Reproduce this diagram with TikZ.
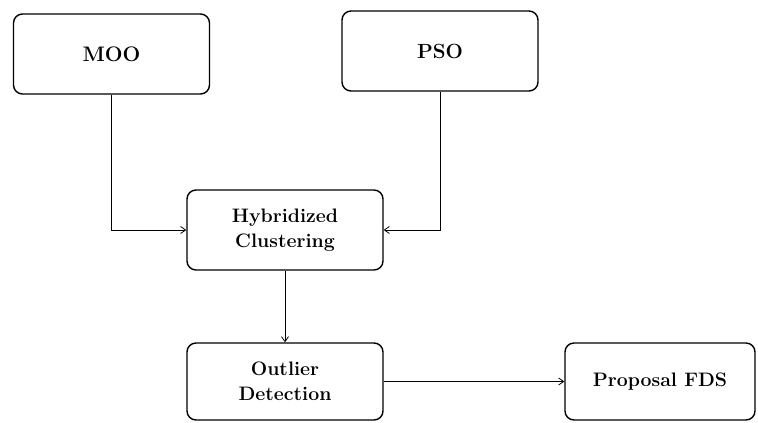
\documentclass[tikz,border=0pt]{standalone}
\usepackage{fontspec}
\usetikzlibrary{arrows.meta}

\tikzset{
  blockbox/.style={draw, line width=1.4pt, rounded corners=9pt, align=center,
    minimum width=196pt, minimum height=80pt, inner sep=0pt,
    font=\fontsize{19.5}{25}\selectfont\bfseries},
  flowline/.style={line width=0.8pt, -{Straight Barb[length=5pt,width=7pt]}}
}

\begin{document}
\begin{tikzpicture}[x=1pt, y=-1pt]
      \useasboundingbox (0,0) rectangle (758,423);

      \node[blockbox, font=\fontsize{21}{25}\selectfont\bfseries] (moo) at (111.5,54) {MOO};
      \node[blockbox, font=\fontsize{20.5}{25}\selectfont\bfseries] (pso) at (440,51) {PSO};

      \node[blockbox] (hyb) at (285,230) {Hybridized\\Clustering};
      \node[blockbox, minimum height=77pt] (outl) at (285,381.5) {Outlier\\Detection};
      \node[blockbox, minimum width=190pt, minimum height=77pt] (fds) at (660,381.5) {Proposal FDS};

      \draw[flowline] (moo.south) |- (hyb.west);
      \draw[flowline] (pso.south) |- (hyb.east);
      \draw[flowline] (hyb.south) -- (outl.north);
      \draw[flowline] (outl.east) -- (fds.west);
    \end{tikzpicture}
\end{document}
